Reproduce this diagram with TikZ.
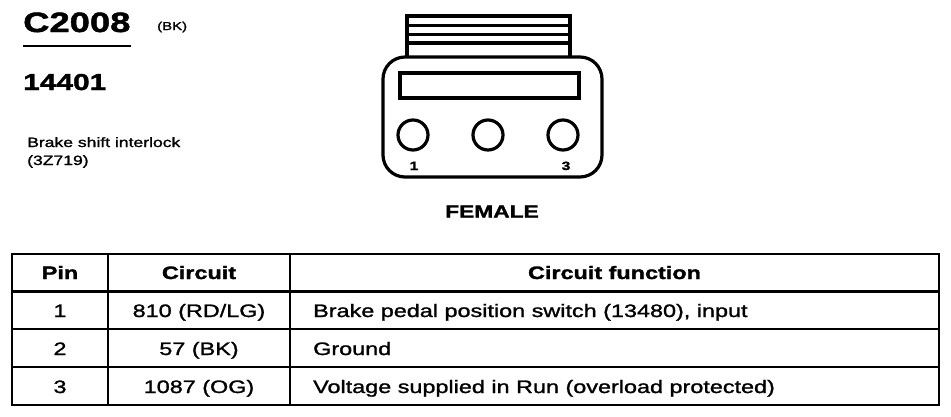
\documentclass[tikz,border=0pt]{standalone}
\usepackage{fontspec}
\setmainfont{Liberation Sans}[FakeStretch=1.3,UprightFeatures={FakeBold=1.4},BoldFeatures={FakeBold=1.6}]
\begin{document}
\begin{tikzpicture}[x=1pt,y=-1pt,
  lbl/.style={inner sep=0pt,font=\fontsize{18}{22}\selectfont},
  hdr/.style={inner sep=0pt,font=\fontsize{18}{22}\selectfont\bfseries},
  thick line/.style={line width=2.9pt},
  conn/.style={line width=3.2pt}]
\useasboundingbox (0,0) rectangle (951,416);
% title block
\node[inner sep=0pt,anchor=base west,font=\fontsize{28}{32}\selectfont\bfseries] (title) at (23,32) {C2008};
\draw[line width=2pt] (23,45.5) -- (131,45.5);
\node[inner sep=0pt,anchor=base west,font=\fontsize{11.5}{13}\selectfont] (bk) at (157,30) {(BK)};
\node[inner sep=0pt,anchor=base west,font=\fontsize{23}{26}\selectfont\bfseries] (num) at (23,90) {14401};
\node[inner sep=0pt,anchor=base west,font=\fontsize{13.5}{18}\selectfont,align=left] (desc) at (27,147) {Brake shift interlock};
\node[inner sep=0pt,anchor=base west,font=\fontsize{13.5}{18}\selectfont] (desc2) at (27,165) {(3Z719)};
% connector
\draw[conn] (407,57) -- (407,16) -- (570,16) -- (570,57);
\draw[conn] (407,25.5) -- (570,25.5);
\draw[conn] (407,34.3) -- (570,34.3);
\draw[conn] (407,43) -- (570,43);
\draw[conn,rounded corners=22pt] (383,57) -- (383,177) -- (602,177) -- (602,57) -- cycle;
\draw[conn] (400,73) rectangle (579,98);
\draw[conn] (413,135) circle (15);
\draw[conn] (488,135) circle (15);
\draw[conn] (563,135) circle (15);
\node[inner sep=0pt,anchor=base,font=\fontsize{12}{14}\selectfont\bfseries] (p1) at (414,170) {1};
\node[inner sep=0pt,anchor=base,font=\fontsize{12}{14}\selectfont\bfseries] (p3) at (566,170) {3};
\node[inner sep=0pt,anchor=base,font=\fontsize{17.5}{20}\selectfont\bfseries] (fem) at (492,217.5) {FEMALE};
% table
\draw[thick line] (12,254) rectangle (939,405);
\draw[thick line] (12,291.5) -- (939,291.5);
\draw[thick line] (12,329) -- (939,329);
\draw[thick line] (12,367) -- (939,367);
\draw[thick line] (108,254) -- (108,405);
\draw[thick line] (290,254) -- (290,405);
\node[hdr,anchor=base] (h1) at (60,279) {Pin};
\node[hdr,anchor=base] (h2) at (199,279) {Circuit};
\node[hdr,anchor=base] (h3) at (614.5,279) {Circuit function};
\node[lbl,anchor=base] (r1a) at (60,317) {1};
\node[lbl,anchor=base] (r1b) at (199,317) {810 (RD/LG)};
\node[lbl,anchor=base west] (r1c) at (313,317) {Brake pedal position switch (13480), input};
\node[lbl,anchor=base] (r2a) at (60,355) {2};
\node[lbl,anchor=base] (r2b) at (199,355) {57 (BK)};
\node[lbl,anchor=base west] (r2c) at (313,355) {Ground};
\node[lbl,anchor=base] (r3a) at (60,393) {3};
\node[lbl,anchor=base] (r3b) at (199,393) {1087 (OG)};
\node[lbl,anchor=base west] (r3c) at (313,393) {Voltage supplied in Run (overload protected)};
\end{tikzpicture}
\end{document}
